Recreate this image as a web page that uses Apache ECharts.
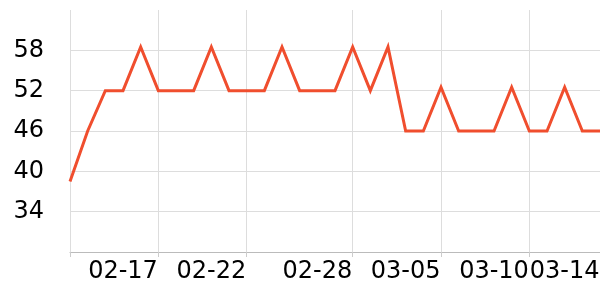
<!DOCTYPE html>
<html><head><meta charset="utf-8">
<script src="https://cdn.jsdelivr.net/npm/echarts@6/dist/echarts.min.js"></script>
<style>html,body{margin:0;padding:0;background:#fff}#c{width:600px;height:300px}</style>
</head><body><div id="c"></div>
<script>
const dates = ['02-14','02-15','02-16','02-17','02-18','02-19','02-20','02-21','02-22','02-23','02-24','02-25','02-26','02-27','02-28','03-01','03-02','03-03','03-04','03-05','03-06','03-07','03-08','03-09','03-10','03-11','03-12','03-13','03-14','03-15','03-16'];
const values = [38.5,46,52,52,58.5,52,52,52,58.5,52,52,52,58.5,52,52,52,58.5,52,58.5,46,46,52.5,46,46,46,52.5,46,46,52.5,46,46];
const labelIdx = [3,8,14,19,24,28];
const gridIdx = [0,5,10,16,21,26];
const chart = echarts.init(document.getElementById('c'), null, {renderer:'canvas'});
chart.setOption({
  animation:false,
  textStyle:{fontFamily:'DejaVu Sans'},
  grid:{left:70,right:0,top:10,bottom:48,containLabel:false,outerBoundsMode:'none'},
  xAxis:{type:'category',data:dates,boundaryGap:false,
    axisLine:{lineStyle:{color:'#bbb'}},
    axisTick:{interval:(i)=>gridIdx.includes(i),lineStyle:{color:'#ccc'}},
    splitLine:{show:true,interval:(i)=>gridIdx.includes(i),lineStyle:{color:'#ddd'}},
    axisLabel:{interval:(i)=>labelIdx.includes(i),color:'#000',fontSize:24,margin:8,fontFamily:'DejaVu Sans'}},
  yAxis:{type:'value',min:28,max:64,interval:6,
    axisLine:{show:false},axisTick:{show:false},
    splitLine:{lineStyle:{color:'#ddd'},showMaxLine:false},
    axisLabel:{color:'#000',fontSize:24,margin:26,showMinLabel:false,showMaxLabel:false,fontFamily:'DejaVu Sans'}},
  series:[{type:'line',data:values,symbol:'none',lineStyle:{color:'#f04e2e',width:3,join:'miter'}}]
});
</script></body></html>
